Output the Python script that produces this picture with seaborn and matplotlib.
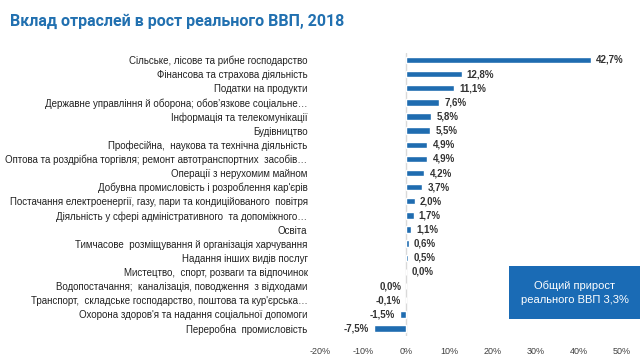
import numpy as np
import pandas as pd
import seaborn as sns
from matplotlib import pyplot as plt
from matplotlib.patches import Rectangle

# data
sectors = [
    "Сільське, лісове та рибне господарство",
    "Фінансова та страхова діяльність",
    "Податки на продукти",
    "Державне управління й оборона; обов’язкове соціальне…",
    "Інформація та телекомунікації",
    "Будівництво",
    "Професійна,  наукова та технічна діяльність",
    "Оптова та роздрібна торгівля; ремонт автотранспортних  засобів…",
    "Операції з нерухомим майном",
    "Добувна промисловість і розроблення кар'єрів",
    "Постачання електроенергії, газу, пари та кондиційованого  повітря",
    "Діяльність у сфері адміністративного  та допоміжного…",
    "Освіта",
    "Тимчасове  розміщування й організація харчування",
    "Надання інших видів послуг",
    "Мистецтво,  спорт, розваги та відпочинок",
    "Водопостачання;  каналізація, поводження  з відходами",
    "Транспорт,  складське господарство, поштова та кур'єрська…",
    "Охорона здоров'я та надання соціальної допомоги",
    "Переробна  промисловість",
]
contrib = [42.7, 12.8, 11.1, 7.6, 5.8, 5.5, 4.9, 4.9, 4.2, 3.7,
           2.0, 1.7, 1.1, 0.6, 0.5, 0.0, -0.0, -0.1, -1.5, -7.5]
xticks = [-20, -10, 0, 10, 20, 30, 40, 50]
title = "Вклад отраслей в рост реального ВВП, 2018"
note = "Общий прирост\nреального ВВП 3,3%"

df = pd.DataFrame({"sector": sectors, "value": contrib})

sns.set_style("white")
plt.rcParams['font.family'] = ['Liberation Sans', 'DejaVu Sans']

fig = plt.figure(figsize=(6.4, 3.6), dpi=100)
ax = fig.add_axes([0.5, 0.068, 0.472, 0.785])

blue = "#1f6cb0"
sns.barplot(data=df, x="value", y="sector", color=blue, width=0.45,
            saturation=1, ax=ax)

ax.set_xlim(-20, 50)
ax.set_ylim(len(sectors) - 0.5, -0.5)
ax.set_xticks(xticks)
ax.set_xticklabels([f"{t}%" for t in xticks], fontsize=6.5, color="#404040")
ax.tick_params(axis="y", labelsize=7, pad=9, length=0, colors="#222222")
ax.tick_params(axis="x", length=0, pad=8)
ax.set_xlabel("")
ax.set_ylabel("")
sns.despine(ax=ax, left=True, bottom=True)
ax.axvline(0, color="#d9d9d9", lw=1, zorder=0)

for i, v in enumerate(contrib):
    lab = f"{abs(v) if v == 0 else v:.1f}%".replace(".", ",")
    if np.signbit(v):
        ax.text(v - 1.2, i, lab, ha="right", va="center", fontsize=7,
                fontweight="bold", color="#333333")
    else:
        ax.text(v + 1.2, i, lab, ha="left", va="center", fontsize=7,
                fontweight="bold", color="#333333")

fig.text(0.016, 0.94, title, fontsize=11.5, fontweight="bold", color="#2170b0",
         family=["Roboto", "DejaVu Sans"], va="center")

fig.patches.append(Rectangle((0.795, 0.114), 0.205, 0.147, transform=fig.transFigure,
                             facecolor="#1a6bb5", edgecolor="none"))
fig.text(0.898, 0.188, note, ha="center", va="center", fontsize=8,
         color="white", linespacing=1.5)

plt.savefig("out.png", dpi=100)
